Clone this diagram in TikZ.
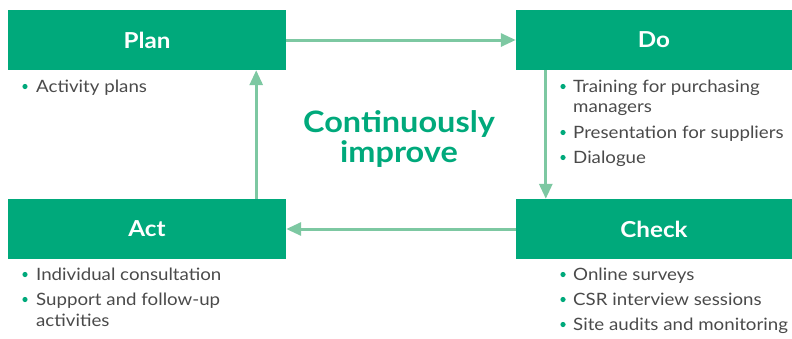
\documentclass[tikz,border=0pt]{standalone}
\usepackage{fontspec}
\setmainfont{Lato}[FakeStretch=1.1]
\usetikzlibrary{arrows.meta,calc}
\definecolor{boxgreen}{HTML}{00A97B}
\definecolor{arrowgreen}{HTML}{7DC8A2}
\definecolor{textgray}{HTML}{4A4A4A}
\tikzset{
  phase/.style={fill=boxgreen, inner sep=0pt, minimum height=60pt, text=white,
    font=\fontsize{22}{26}\selectfont\bfseries},
  flow/.style={draw=arrowgreen, line width=3pt, -{Triangle[length=15pt,width=13pt]}},
  itemtext/.style={anchor=base west, inner sep=0pt, text=textgray,
    font=\fontsize{17}{20}\selectfont},
  dot/.style={fill=boxgreen},
  centertext/.style={text=boxgreen, inner sep=0pt, anchor=base,
    font=\fontsize{29.5}{34}\selectfont\bfseries}
}
\begin{document}
\begin{tikzpicture}[x=1pt,y=-1pt]
\useasboundingbox (0,0) rectangle (792,338);
% phase boxes
\node[phase, minimum width=278pt] (plan) at (147,40) {Plan};
\node[phase, minimum width=276pt] (do) at (654,40) {Do};
\node[phase, minimum width=278pt] (act) at (147,229) {Act};
\node[phase, minimum width=276pt] (check) at (654,229) {Check};
% connectors
\draw[flow] (plan.east) -- (do.west);
\draw[flow] ($(do.south west)+(30,0)$) -- ($(check.north west)+(30,0)$);
\draw[flow] (check.west) -- (act.east);
\draw[flow] ($(act.north east)+(-30,0)$) -- ($(plan.south east)+(-30,0)$);
% centre text
\node[centertext] (ct1) at (399,132) {Continuously};
\node[centertext] (ct2) at (399,162) {improve};
% Plan items
\fill[dot] (25,86.5) circle (2.6pt);
\node[itemtext] (p1) at (36,92) {Activity plans};
% Do items
\fill[dot] (563,86.5) circle (2.6pt);
\node[itemtext] (d1a) at (573,92) {Training for purchasing};
\node[itemtext] (d1b) at (573,112) {managers};
\fill[dot] (563,132.5) circle (2.6pt);
\node[itemtext] (d2) at (573,138) {Presentation for suppliers};
\fill[dot] (563,157.5) circle (2.6pt);
\node[itemtext] (d3) at (573,163) {Dialogue};
% Act items
\fill[dot] (25,274.5) circle (2.6pt);
\node[itemtext] (a1) at (36,280) {Individual consultation};
\fill[dot] (25,299.5) circle (2.6pt);
\node[itemtext] (a2a) at (36,305) {Support and follow-up};
\node[itemtext] (a2b) at (36,326) {activities};
% Check items
\fill[dot] (563,274.5) circle (2.6pt);
\node[itemtext] (c1) at (573,280) {Online surveys};
\fill[dot] (563,299.5) circle (2.6pt);
\node[itemtext] (c2) at (573,305) {CSR interview sessions};
\fill[dot] (563,324.5) circle (2.6pt);
\node[itemtext] (c3) at (573,330) {Site audits and monitoring};
\end{tikzpicture}
\end{document}
